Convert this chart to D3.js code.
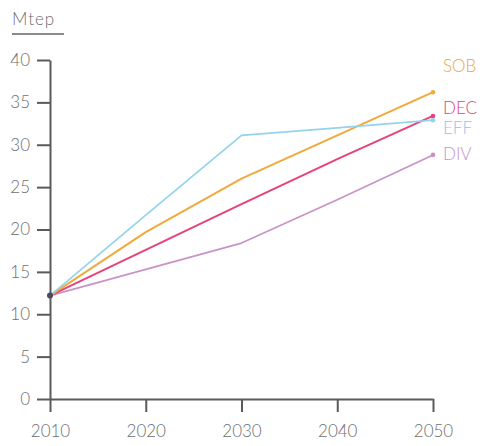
<!DOCTYPE html>
<html><head><meta charset="utf-8">
<script src="https://cdn.jsdelivr.net/npm/d3@7"></script>
<style>
body{margin:0;background:#fff;}
svg{display:block;font-family:Lato,"Open Sans",sans-serif;font-weight:300;}
</style></head>
<body><div id="chart"></div>
<script>
const years = [2010, 2020, 2030, 2040, 2050];
const seriesNames = ["SOB", "EFF", "DEC", "DIV"];
const sob = [12.2, 19.7, 26.0, 31.1, 36.2];
const eff = [12.2, 21.7, 31.1, 32.0, 32.9];
const dec = [12.2, 17.6, 23.0, 28.3, 33.4];
const div = [12.2, 15.3, 18.4, 23.5, 28.8];
const yTicks = [0, 5, 10, 15, 20, 25, 30, 35, 40];
const xTicks = [2010, 2020, 2030, 2040, 2050];
const unitLabel = "Mtep";
const colors = {SOB:"#f2a93b", EFF:"#93d3ec", DEC:"#e4437d", DIV:"#c893c7"};
const labelColors = {SOB:"#eea53c", EFF:"#86cbe6", DEC:"#e03f79", DIV:"#c493c5"};
const labelY = {SOB:66, DEC:108, EFF:128, DIV:154};
const values = {SOB:sob, EFF:eff, DEC:dec, DIV:div};

const W = 482, H = 446;
const svg = d3.select("#chart").append("svg").attr("width", W).attr("height", H);
const x = d3.scaleLinear().domain([2010, 2050]).range([50, 433]);
const y = d3.scaleLinear().domain([0, 40]).range([399, 60]);
const axisColor = "#5a5a5a", textColor = "#6e6e6e";
const fontFam = "Lato,'Open Sans',sans-serif";

// unit label
svg.append("text").attr("x", 12).attr("y", 25).attr("fill", textColor)
  .style("font-size", "17px").style("letter-spacing", "1px").text(unitLabel);
svg.append("line").attr("x1", 12).attr("x2", 64).attr("y1", 34).attr("y2", 34)
  .attr("stroke", "#8a8a8a").attr("stroke-width", 2);

// axes
const yAxis = svg.append("g").attr("transform", "translate(50,0)")
  .call(d3.axisLeft(y).tickValues(yTicks).tickSize(13).tickPadding(7).tickSizeOuter(0));
const xAxis = svg.append("g").attr("transform", "translate(0,399)")
  .call(d3.axisBottom(x).tickValues(xTicks).tickFormat(d3.format("d")).tickSize(13).tickPadding(13).tickSizeOuter(0));
[yAxis, xAxis].forEach(a => {
  a.select(".domain").attr("stroke", axisColor).attr("stroke-width", 2);
  a.selectAll(".tick line").attr("stroke", axisColor).attr("stroke-width", 2);
  a.selectAll(".tick text").attr("fill", textColor).style("font-size", "17px")
    .style("font-family", fontFam).style("font-weight", 300);
});

// lines
const line = d3.line().x((d, i) => x(years[i])).y(d => y(d));
const order = ["DIV", "DEC", "SOB", "EFF"];
order.forEach(name => {
  svg.append("path").datum(values[name]).attr("d", line)
    .attr("fill", "none").attr("stroke", colors[name]).attr("stroke-width", name === "DEC" || name === "SOB" ? 2 : 1.7)
    .attr("stroke-linejoin", "round");
  const v = values[name];
  svg.append("circle").attr("cx", x(years[years.length-1])).attr("cy", y(v[v.length-1]))
    .attr("r", 2.3).attr("fill", colors[name]);
});
svg.append("circle").attr("cx", x(years[0])).attr("cy", y(sob[0])).attr("r", 3).attr("fill", "#4a4a5a");

// series labels
seriesNames.forEach(name => {
  svg.append("text").attr("x", 443).attr("y", labelY[name]).attr("dy", "0.35em")
    .attr("fill", labelColors[name]).style("font-size", "17px").text(name);
});
</script></body></html>
